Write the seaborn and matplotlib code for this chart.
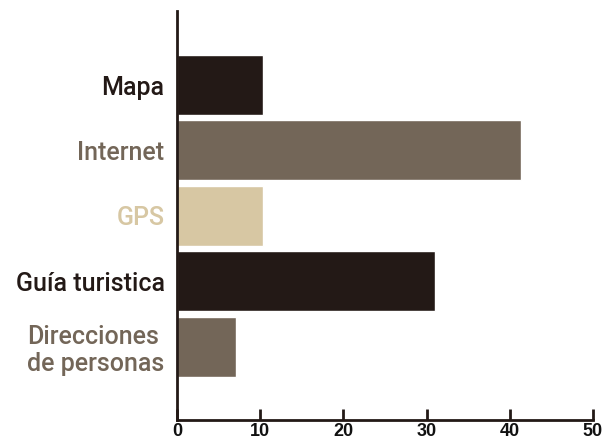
import matplotlib.pyplot as plt
import seaborn as sns
import pandas as pd

categorias = ['Mapa', 'Internet', 'GPS', 'Guía turistica', 'Direcciones\nde personas']
valores = [10.3, 41.4, 10.3, 31.0, 7.1]
colores = ['#231916', '#736658', '#d7c7a3', '#231916', '#736658']
ticks_x = [0, 10, 20, 30, 40, 50]

df = pd.DataFrame({'categoria': categorias, 'valor': valores})

sns.set_style('white')
plt.rcParams['font.family'] = ['Roboto', 'DejaVu Sans']

fig, ax = plt.subplots(figsize=(6.15, 4.43), dpi=100)
fig.subplots_adjust(left=0.288, right=0.964, top=0.976, bottom=0.052)

sns.barplot(data=df, y='categoria', x='valor', hue='categoria',
            palette=colores, orient='h', width=0.917, saturation=1,
            legend=False, ax=ax)

ax.set_xlim(0, 50)
ax.set_ylim(5.116, -1.136)
ax.set_xticks(ticks_x)
ax.set_xticklabels([str(t) for t in ticks_x])
for lbl in ax.get_xticklabels():
    lbl.set_fontfamily(['Liberation Sans', 'DejaVu Sans'])
    lbl.set_fontweight('bold')
    lbl.set_fontsize(13)
    lbl.set_color('#111111')
ax.set_yticks(range(len(categorias)))
ax.set_yticklabels(categorias, fontsize=18, fontweight='medium', multialignment='left',
                   linespacing=1.15)
for lbl, c in zip(ax.get_yticklabels(), colores):
    lbl.set_color(c)

ax.tick_params(axis='x', bottom=True, direction='in', length=8, width=2,
               color='#231916', pad=2)
ax.tick_params(axis='y', left=False, length=0, pad=9)

for s in ['top', 'right']:
    ax.spines[s].set_visible(False)
for s in ['left', 'bottom']:
    ax.spines[s].set_linewidth(2)
    ax.spines[s].set_color('#231916')

ax.set_xlabel('')
ax.set_ylabel('')

plt.savefig('out.png', dpi=100)
